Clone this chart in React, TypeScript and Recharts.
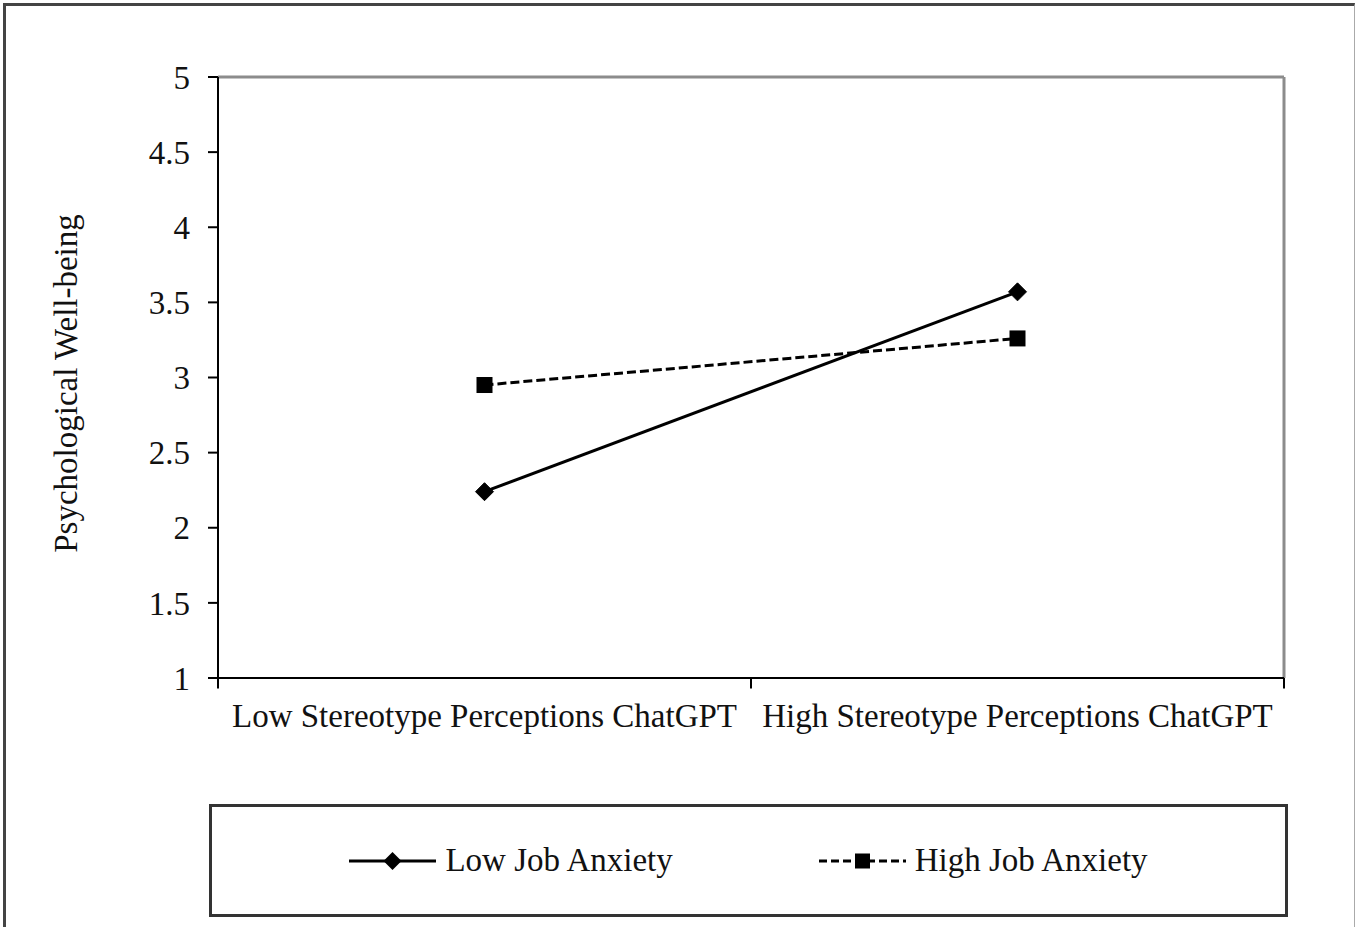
import React from 'react';
import { LineChart, Line, XAxis, YAxis, ReferenceLine, Legend } from 'recharts';

const categories = ['Low Stereotype Perceptions ChatGPT', 'High Stereotype Perceptions ChatGPT'];
const lowJobAnxiety = [2.24, 3.57];
const highJobAnxiety = [2.95, 3.26];
const yTicks = [1, 1.5, 2, 2.5, 3, 3.5, 4, 4.5, 5];
const seriesNames = ['Low Job Anxiety', 'High Job Anxiety'];

const data = categories.map((c, i) => ({
  category: c,
  low: lowJobAnxiety[i],
  high: highJobAnxiety[i],
}));

const FONT = '"Liberation Serif", "Times New Roman", serif';
const FS = 33;
const TICK_DROP = 0.07; // tick mark length below axis, in axis units

const Diamond = (props: any) => {
  const { cx, cy, index } = props;
  if (cx == null || cy == null) return <g key={`d-${index}`} />;
  const r = 9;
  return (
    <polygon
      key={`d-${index}`}
      points={`${cx},${cy - r} ${cx + r},${cy} ${cx},${cy + r} ${cx - r},${cy}`}
      fill="#000"
      stroke="#000"
    />
  );
};

const Square = (props: any) => {
  const { cx, cy, index } = props;
  if (cx == null || cy == null) return <g key={`s-${index}`} />;
  const s = 16;
  return <rect key={`s-${index}`} x={cx - s / 2} y={cy - s / 2} width={s} height={s} fill="#000" />;
};

const renderLegend = () => {
  return (
    <div
      style={{
        width: '100%',
        height: '100%',
        boxSizing: 'border-box',
        border: '3px solid #333',
        display: 'flex',
        alignItems: 'center',
        justifyContent: 'center',
        gap: 146,
        fontFamily: FONT,
        fontSize: FS,
        color: '#111',
        background: '#fff',
      }}
    >
      {seriesNames.map((name, i) => {
        const dashed = i === 1;
        return (
          <div key={name} style={{ display: 'flex', alignItems: 'center' }}>
            <svg width={87} height={20} style={{ display: 'block' }}>
              <line
                x1={0}
                y1={10}
                x2={87}
                y2={10}
                stroke="#000"
                strokeWidth={3}
                strokeDasharray={dashed ? '8 4' : undefined}
              />
              {dashed ? (
                <rect x={43.5 - 7.5} y={2.5} width={15} height={15} fill="#000" />
              ) : (
                <polygon points="43.5,1 52.5,10 43.5,19 34.5,10" fill="#000" />
              )}
            </svg>
            <span style={{ marginLeft: 9, lineHeight: 1 }}>{name}</span>
          </div>
        );
      })}
    </div>
  );
};

export default function App() {
  return (
    <div style={{ position: 'absolute', left: 0, top: 0, width: 1356, height: 927, background: '#fff', overflow: 'hidden' }}>
      <div
        style={{
          position: 'absolute',
          left: 3,
          top: 3,
          width: 1352,
          height: 960,
          boxSizing: 'border-box',
          borderLeft: '3px solid #444',
          borderTop: '3px solid #444',
          borderRight: '1px solid #aaa',
        }}
      />
      <div style={{ position: 'absolute', left: 0, top: 0 }}>
        <LineChart
          width={1356}
          height={927}
          data={data}
          margin={{ top: 77, right: 72, bottom: 189, left: 0 }}
          style={{ fontFamily: FONT }}
        >
          <XAxis
            dataKey="category"
            scale="band"
            height={60}
            axisLine={{ stroke: '#000', strokeWidth: 2 }}
            tickLine={false}
            tickSize={6}
            tickMargin={20}
            interval={0}
            tick={{ fill: '#111', fontSize: FS, fontFamily: FONT }}
          />
          <YAxis
            domain={[1, 5]}
            ticks={yTicks}
            width={218}
            axisLine={{ stroke: '#000', strokeWidth: 2 }}
            tickLine={{ stroke: '#000', strokeWidth: 2 }}
            tickSize={10}
            tickMargin={18}
            tick={{ fill: '#111', fontSize: FS, fontFamily: FONT }}
            label={{
              value: 'Psychological Well-being',
              angle: -90,
              position: 'center',
              dx: -44,
              dy: 6,
              fill: '#111',
              fontSize: FS,
              fontFamily: FONT,
            }}
          />
          <ReferenceLine y={yTicks[yTicks.length - 1]} stroke="#8c8c8c" strokeWidth={3} />
          <ReferenceLine x={categories[1]} position="end" stroke="#8c8c8c" strokeWidth={3} />
          <ReferenceLine
            position="start"
            ifOverflow="visible"
            segment={[
              { x: categories[0], y: yTicks[0] },
              { x: categories[0], y: yTicks[0] - TICK_DROP },
            ]}
            stroke="#000"
            strokeWidth={2}
          />
          <ReferenceLine
            position="start"
            ifOverflow="visible"
            segment={[
              { x: categories[1], y: yTicks[0] },
              { x: categories[1], y: yTicks[0] - TICK_DROP },
            ]}
            stroke="#000"
            strokeWidth={2}
          />
          <ReferenceLine
            position="end"
            ifOverflow="visible"
            segment={[
              { x: categories[1], y: yTicks[0] },
              { x: categories[1], y: yTicks[0] - TICK_DROP },
            ]}
            stroke="#000"
            strokeWidth={2}
          />
          <Legend
            layout="horizontal"
            verticalAlign="middle"
            align="center"
            content={renderLegend}
            wrapperStyle={{ left: 209, top: 804, width: 1079, height: 113 }}
          />
          <Line
            type="linear"
            dataKey="low"
            name={seriesNames[0]}
            stroke="#000"
            strokeWidth={3}
            dot={Diamond}
            activeDot={false}
            isAnimationActive={false}
          />
          <Line
            type="linear"
            dataKey="high"
            name={seriesNames[1]}
            stroke="#000"
            strokeWidth={3}
            strokeDasharray="9 4"
            dot={Square}
            activeDot={false}
            isAnimationActive={false}
          />
        </LineChart>
      </div>
    </div>
  );
}
